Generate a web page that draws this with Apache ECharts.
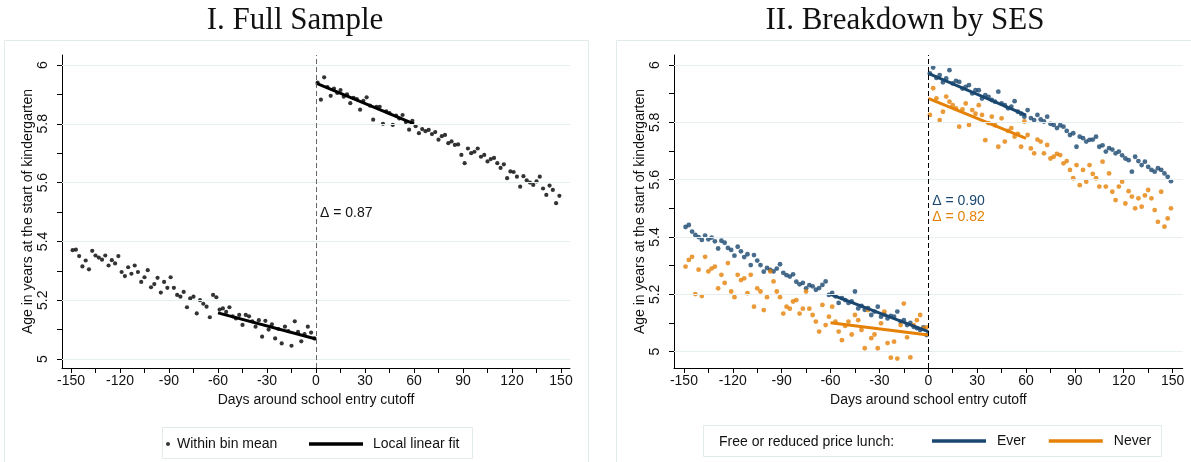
<!DOCTYPE html>
<html><head><meta charset="utf-8">
<script src="https://cdn.jsdelivr.net/npm/echarts@6/dist/echarts.min.js"></script>
<style>html,body{margin:0;padding:0;background:#fff}#c{width:1191px;height:462px}</style>
</head><body><div id="c"></div>
<script>
// ---------- DATA ----------
const leftDays = [-149,-147,-145,-143,-141,-139,-137,-135,-133,-131,-129,-127,-125,-123,-121,-119,-117,-115,-113,-111,-109,-107,-105,-103,-101,-99,-97,-95,-93,-91,-89,-87,-85,-83,-81,-79,-77,-75,-73,-71,-69,-67,-65,-63,-61,-59,-57,-55,-53,-51,-49,-47,-45,-43,-41,-39,-37,-35,-33,-31,-29,-27,-25,-23,-21,-19,-17,-15,-13,-11,-9,-7,-5,-3,-1];
const rightDays = [1,3,5,7,9,11,13,15,17,19,21,23,25,27,29,31,33,35,37,39,41,43,45,47,49,51,53,55,57,59,61,63,65,67,69,71,73,75,77,79,81,83,85,87,89,91,93,95,97,99,101,103,105,107,109,111,113,115,117,119,121,123,125,127,129,131,133,135,137,139,141,143,145,147,149];

// Panel I: full sample, within-bin means
const fullLeft = [5.370,5.372,5.350,5.315,5.335,5.305,5.368,5.352,5.345,5.338,
  5.352,5.318,5.336,5.325,5.350,5.296,5.282,5.312,5.290,5.318,
  5.296,5.262,5.278,5.302,5.244,5.255,5.276,5.226,5.262,5.242,
  5.278,5.242,5.218,5.212,5.228,5.176,5.206,5.212,5.155,5.200,
  5.188,5.178,5.142,5.218,5.210,5.168,5.172,5.160,5.176,5.145,
  5.138,5.150,5.116,5.150,5.145,5.128,5.110,5.132,5.076,5.130,
  5.100,5.118,5.070,5.102,5.053,5.110,5.095,5.045,5.128,5.092,
  5.060,5.085,5.110,5.090,5.070];
const fullRight = [5.940,5.882,5.958,5.925,5.895,5.920,5.905,5.915,5.892,5.900,
  5.870,5.888,5.884,5.848,5.878,5.890,5.862,5.814,5.858,5.858,
  5.800,5.842,5.836,5.796,5.828,5.818,5.830,5.806,5.780,5.810,
  5.792,5.768,5.782,5.775,5.779,5.765,5.772,5.746,5.758,5.762,
  5.734,5.740,5.728,5.730,5.694,5.666,5.716,5.700,5.705,5.716,
  5.688,5.694,5.672,5.680,5.684,5.666,5.650,5.662,5.615,5.638,
  5.636,5.620,5.586,5.622,5.608,5.600,5.592,5.604,5.620,5.580,
  5.558,5.590,5.575,5.530,5.555];

// Panel II: free/reduced price lunch Ever / Never
const everLeft = [5.435,5.442,5.419,5.407,5.400,5.390,5.405,5.392,5.398,5.385,
  5.360,5.387,5.380,5.362,5.355,5.335,5.366,5.350,5.330,5.340,
  5.302,5.337,5.318,5.302,5.279,5.292,5.285,5.280,5.290,5.305,
  5.275,5.267,5.262,5.270,5.244,5.235,5.240,5.221,5.232,5.228,
  5.216,5.222,5.233,5.245,5.198,5.205,5.193,5.170,5.187,5.180,
  5.170,5.175,5.210,5.151,5.160,5.146,5.152,5.128,5.140,5.157,
  5.122,5.130,5.116,5.125,5.122,5.140,5.105,5.110,5.093,5.100,
  5.087,5.082,5.076,5.085,5.058];
const neverLeft = [5.297,5.320,5.331,5.201,5.286,5.194,5.331,5.280,5.290,5.297,
  5.221,5.268,5.240,5.309,5.210,5.190,5.268,5.250,5.256,5.204,
  5.268,5.157,5.221,5.210,5.145,5.190,5.280,5.245,5.210,5.190,
  5.133,5.157,5.150,5.175,5.180,5.133,5.150,5.210,5.150,5.128,
  5.105,5.070,5.163,5.093,5.122,5.157,5.105,5.070,5.040,5.090,
  5.105,5.060,5.128,5.110,5.076,5.012,5.145,5.047,5.060,5.012,
  5.099,5.140,5.030,4.979,5.035,4.976,5.093,5.168,5.050,4.980,
  5.093,5.110,5.128,5.081,5.085];
const everRight = [5.971,5.991,5.955,5.965,5.940,5.953,5.982,5.936,5.945,5.941,
  5.918,5.924,5.930,5.901,5.912,5.912,5.883,5.895,5.889,5.878,
  5.872,5.907,5.866,5.860,5.849,5.855,5.874,5.837,5.830,5.820,
  5.843,5.815,5.808,5.826,5.810,5.803,5.820,5.795,5.791,5.780,
  5.790,5.785,5.770,5.756,5.762,5.715,5.750,5.745,5.733,5.739,
  5.740,5.750,5.715,5.720,5.698,5.710,5.705,5.692,5.698,5.685,
  5.674,5.668,5.628,5.680,5.665,5.651,5.663,5.645,5.634,5.628,
  5.640,5.634,5.622,5.610,5.595];
const neverRight = [5.826,5.919,5.884,5.808,5.837,5.890,5.872,5.860,5.849,5.785,
  5.845,5.866,5.791,5.843,5.830,5.860,5.826,5.738,5.797,5.820,
  5.790,5.715,5.814,5.733,5.770,5.780,5.750,5.760,5.715,5.803,
  5.756,5.709,5.692,5.740,5.733,5.692,5.721,5.674,5.680,5.690,
  5.686,5.657,5.665,5.634,5.605,5.651,5.581,5.634,5.593,5.651,
  5.620,5.605,5.576,5.663,5.576,5.622,5.558,5.529,5.576,5.593,
  5.517,5.560,5.541,5.500,5.535,5.506,5.545,5.564,5.535,5.494,
  5.453,5.558,5.436,5.465,5.500];

// Local linear fits (endpoints, bandwidth 60 days)
const fitLeftDays = [-60, 0];
const fitRightDays = [0, 60];
const fullFitLeft = [5.157, 5.068];
const fullFitRight = [5.938, 5.800];
const everFitLeft = [5.200, 5.070];
const everFitRight = [5.971, 5.825];
const neverFitLeft = [5.101, 5.058];
const neverFitRight = [5.884, 5.744];

// Ticks and labels
const yLabelVals = [5, 5.2, 5.4, 5.6, 5.8, 6];
const yTickVals = [5, 5.1, 5.2, 5.3, 5.4, 5.5, 5.6, 5.7, 5.8, 5.9, 6];
const xLabelVals = [-150, -120, -90, -60, -30, 0, 30, 60, 90, 120, 150];
const xTickVals = [-150,-135,-120,-105,-90,-75,-60,-45,-30,-15,0,15,30,45,60,75,90,105,120,135,150];

// Annotations
const annoFull = {x: 0, y: 5.497, text: 'Δ = 0.87'};
const annoEver = {x: 0, y: 5.526, text: 'Δ = 0.90'};
const annoNever = {x: 0, y: 5.470, text: 'Δ = 0.82'};

const titles = ['I. Full Sample', 'II. Breakdown by SES'];
const xName = 'Days around school entry cutoff';
const yName = 'Age in years at the start of kindergarten';

// ---------- CHART ----------
const NAVY = '#1a476f', ORANGE = '#e58106', GRID = '#e6eef0';
const FONT = 'Liberation Sans';
const chart = echarts.init(document.getElementById('c'), null, {renderer: 'canvas'});
const pairs = (d, v) => d.map((x, i) => [x, v[i]]);

function xAxis(idx, min, max) {
  return {
    gridIndex: idx, type: 'value', min: min, max: max,
    axisLine: {show: true, onZero: false, lineStyle: {color: '#000', width: 1}},
    axisTick: {show: true, inside: false, length: 5, customValues: xTickVals, lineStyle: {color: '#000'}},
    axisLabel: {customValues: xLabelVals, margin: 6, fontFamily: FONT, fontSize: 14, color: '#111'},
    splitLine: {show: false},
    name: xName, nameLocation: 'middle', nameGap: 23,
    nameTextStyle: {fontFamily: FONT, fontSize: 14, color: '#111'}
  };
}
function yAxis(idx, min, max) {
  return {
    gridIndex: idx, type: 'value', min: min, max: max,
    axisLine: {show: true, onZero: false, lineStyle: {color: '#000', width: 1}},
    axisTick: {show: true, inside: false, length: 5, customValues: yTickVals, lineStyle: {color: '#000'}},
    axisLabel: {customValues: yLabelVals, rotate: 90, margin: 12, fontFamily: FONT, fontSize: 14, color: '#111',
      formatter: v => String(+(+v).toFixed(1))},
    splitLine: {show: false},
    name: yName, nameLocation: 'middle', nameGap: 27,
    nameTextStyle: {fontFamily: FONT, fontSize: 14, color: '#111'}
  };
}
function refSeries(idx, zeroColor, annos) {
  return {
    type: 'line', xAxisIndex: idx, yAxisIndex: idx, data: [], z: 1, silent: true,
    markLine: {
      silent: true, symbol: ['none', 'none'], animation: false,
      label: {show: false},
      lineStyle: {color: GRID, width: 1.2, type: 'solid'},
      data: yLabelVals.map(v => ({yAxis: v})).concat([
        {xAxis: 0, lineStyle: {color: zeroColor, width: 1, type: [5, 3]}}
      ])
    },
    markPoint: {
      silent: true, symbol: 'circle', symbolSize: 0, animation: false,
      data: annos.map(a => ({coord: [a.x, a.y], label: {show: true, position: 'right', distance: 4,
        formatter: a.text, color: a.color, fontFamily: FONT, fontSize: 14}}))
    }
  };
}
function scatter(idx, name, d, v, color, size) {
  return {type: 'scatter', name: name, xAxisIndex: idx, yAxisIndex: idx, data: pairs(d, v),
    symbol: 'circle', symbolSize: size, itemStyle: {color: color}, z: 3, silent: true};
}
function fit(idx, name, d, v, color) {
  return {type: 'line', name: name, xAxisIndex: idx, yAxisIndex: idx, data: pairs(d, v),
    showSymbol: false, symbol: 'none', lineStyle: {color: color, width: 3}, itemStyle: {color: color}, z: 4, silent: true};
}

const option = {
  animation: false,
  backgroundColor: '#fff',
  grid: [
    {left: 62, top: 55, width: 508, height: 313},
    {left: 674, top: 55, width: 508.7, height: 313}
  ],
  xAxis: [xAxis(0, -155.5, 155.5), xAxis(1, -156.1, 156.2)],
  yAxis: [yAxis(0, 4.9694, 6.034), yAxis(1, 4.9431, 6.035)],
  legend: [
    {data: ['Within bin mean'], left: 166, top: 437, padding: 0, icon: 'circle', itemWidth: 4, itemHeight: 4,
      selectedMode: false, textStyle: {fontFamily: FONT, fontSize: 14, color: '#111', padding: [0, 0, 0, 2]}},
    {data: ['Local linear fit'], left: 309, top: 437, padding: 0, icon: 'rect', itemWidth: 54, itemHeight: 3.5,
      selectedMode: false, textStyle: {fontFamily: FONT, fontSize: 14, color: '#111', padding: [0, 0, 0, 5]}},
    {data: ['Ever', 'Never'], left: 932, top: 434, padding: 0, icon: 'rect', itemWidth: 54, itemHeight: 3.5,
      itemGap: 23, selectedMode: false, textStyle: {fontFamily: FONT, fontSize: 14, color: '#111', padding: [0, 0, 0, 6]}}
  ],
  graphic: [
    {type: 'rect', shape: {x: 4.5, y: 40.5, width: 584, height: 440}, style: {fill: null, stroke: '#e2eaec', lineWidth: 1}, silent: true, z: -1},
    {type: 'rect', shape: {x: 616.5, y: 40.5, width: 600, height: 440}, style: {fill: null, stroke: '#e2eaec', lineWidth: 1}, silent: true, z: -1},
    {type: 'rect', shape: {x: 162.5, y: 427.5, width: 310, height: 31}, style: {fill: null, stroke: '#e2eaec', lineWidth: 1}, silent: true},
    {type: 'rect', shape: {x: 703.5, y: 425.5, width: 458, height: 31}, style: {fill: null, stroke: '#e2eaec', lineWidth: 1}, silent: true},
    {type: 'text', x: 295, y: 21, style: {text: titles[0], font: '31px "Liberation Serif"', fill: '#111', textAlign: 'center', textVerticalAlign: 'middle'}, silent: true},
    {type: 'text', x: 905, y: 21, style: {text: titles[1], font: '31px "Liberation Serif"', fill: '#111', textAlign: 'center', textVerticalAlign: 'middle'}, silent: true},
    {type: 'text', x: 719, y: 442, style: {text: 'Free or reduced price lunch:', font: '14px "Liberation Sans"', fill: '#111', textAlign: 'left', textVerticalAlign: 'middle'}, silent: true}
  ],
  series: [
    refSeries(0, '#666', [Object.assign({color: '#111'}, annoFull)]),
    scatter(0, 'Within bin mean', leftDays, fullLeft, '#000', 4.2),
    scatter(0, 'Within bin mean', rightDays, fullRight, '#000', 4.2),
    fit(0, 'Local linear fit', fitLeftDays, fullFitLeft, '#000'),
    fit(0, 'Local linear fit', fitRightDays, fullFitRight, '#000'),

    refSeries(1, '#000', [Object.assign({color: NAVY}, annoEver), Object.assign({color: ORANGE}, annoNever)]),
    scatter(1, 'Ever bins', leftDays, everLeft, NAVY, 4.8),
    scatter(1, 'Ever bins', rightDays, everRight, NAVY, 4.8),
    scatter(1, 'Never bins', leftDays, neverLeft, ORANGE, 4.8),
    scatter(1, 'Never bins', rightDays, neverRight, ORANGE, 4.8),
    fit(1, 'Ever', fitLeftDays, everFitLeft, NAVY),
    fit(1, 'Ever', fitRightDays, everFitRight, NAVY),
    fit(1, 'Never', fitLeftDays, neverFitLeft, ORANGE),
    fit(1, 'Never', fitRightDays, neverFitRight, ORANGE)
  ]
};
chart.setOption(option);
</script></body></html>
